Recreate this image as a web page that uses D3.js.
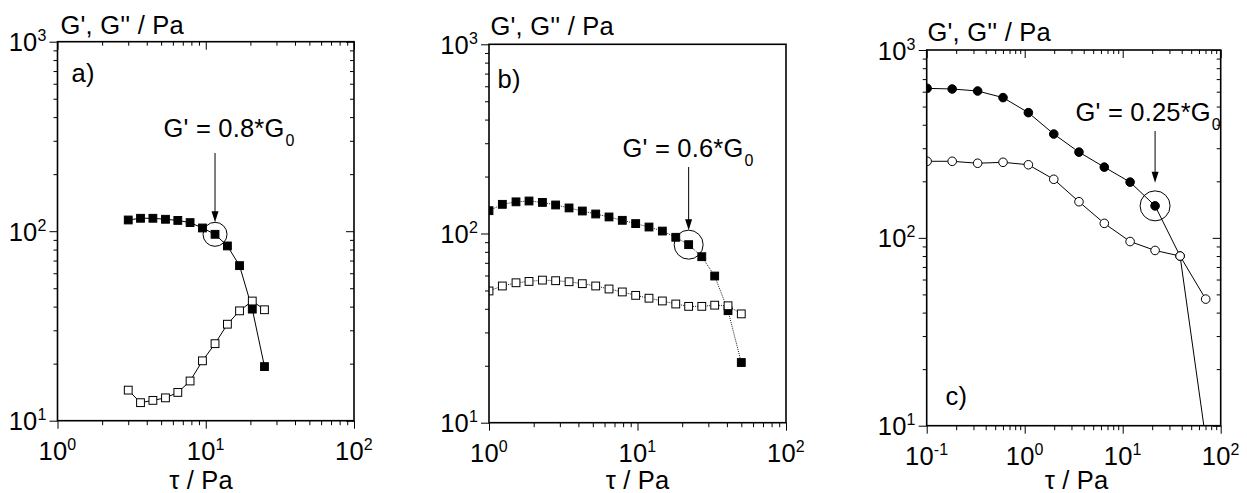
<!DOCTYPE html>
<html>
<head>
<meta charset="utf-8">
<script src="https://cdn.jsdelivr.net/npm/d3@7"></script>
<style>
  body { margin: 0; background: #fff; }
  svg text { font-family: "Liberation Sans", Arial, sans-serif; fill: #000; letter-spacing: 0.2px; }
</style>
</head>
<body>
<svg id="chart" width="1247" height="493"></svg>
<script>
// panel a
let tauA = [3.0, 3.63, 4.4, 5.35, 6.48, 7.84, 9.5, 11.55, 14.0, 16.9, 20.6, 24.9];
let gPrimeA = [114.6, 117, 117, 115.6, 114, 111, 104, 96.3, 83.6, 65.8, 38.8, 19.3];
let gDoubleA = [14.5, 12.45, 12.8, 13.2, 14.1, 16.2, 20.7, 25.5, 32.3, 38.0, 42.8, 38.5];

// panel b
let tauB = [1.0, 1.23, 1.52, 1.86, 2.29, 2.81, 3.46, 4.25, 5.23, 6.43, 7.9, 9.72, 11.95, 14.7, 18.1, 22.1, 27.1, 33.1, 40.7, 50.0];
let gPrimeB = [132, 142.6, 147, 148.5, 146, 141.5, 136.5, 131.5, 126.8, 122.3, 117.4, 112.8, 108.2, 103, 95.5, 87.3, 75.4, 59.6, 39.1, 20.8];
let gDoubleB = [49.7, 52.8, 54.9, 55.8, 56.7, 56.3, 55.6, 54.3, 52.8, 50.9, 49.1, 47.1, 45.5, 44.0, 42.4, 41.2, 41.2, 41.8, 41.5, 37.6];

// panel c
let tauC = [0.101, 0.182, 0.331, 0.601, 1.09, 1.98, 3.58, 6.49, 11.9, 21.4, 38.5, 70.3];
let gPrimeC = [625, 620, 605, 558, 464, 357, 286, 238, 198, 148, 80, 8.5];
let gDoubleC = [255.6, 255.6, 249.5, 252.5, 245, 205, 155.7, 119.4, 95.6, 85.7, 80, 47.2];

// axis decades (exponents) and texts
let xExpA = [0, 1, 2], xExpB = [0, 1, 2], xExpC = [-1, 0, 1, 2];
let yExp = [1, 2, 3];
let yTitle = "G', G'' / Pa";
let xTitle = "τ / Pa";
let tags = ["a)", "b)", "c)"];
let notes = ["G' = 0.8*G", "G' = 0.6*G", "G' = 0.25*G"];
let noteIndex = [7, 15, 9];

let svg = d3.select("#chart");
let fs = 25.5;

let panels = [
  { tau: tauA, gp: gPrimeA, gpp: gDoubleA, xExp: xExpA, shape: "square", dash: null, mirror: true,
    box: [57.5, 41.7, 354, 420.7], tagPos: [71.5, 82], yTitlePos: [60.5, 34], xTitleX: 201,
    note: { text: notes[0], idx: noteIndex[0], x: 163.5, y: 136.7, top: 153, r: 12, gap: 0 } },
  { tau: tauB, gp: gPrimeB, gpp: gDoubleB, xExp: xExpB, shape: "square", dash: "1,1", mirror: false,
    box: [489, 44.3, 786, 422.7], tagPos: [497.5, 88], yTitlePos: [490.5, 35], xTitleX: 637.5,
    note: { text: notes[1], idx: noteIndex[1], x: 622.5, y: 156.7, top: 167, r: 14.5, gap: 0 } },
  { tau: tauC, gp: gPrimeC, gpp: gDoubleC, xExp: xExpC, shape: "circle", dash: null, mirror: true,
    box: [926.7, 50, 1220.7, 425.7], tagPos: [945.5, 405], yTitlePos: [927.5, 41], xTitleX: 1076.5,
    note: { text: notes[2], idx: noteIndex[2], x: 1075.5, y: 120.7, top: 131, r: 15, gap: 8 } }
];

let logTicks = (exps) => {
  let minor = [];
  for (let i = 0; i < exps.length - 1; i++) {
    for (let m = 2; m <= 9; m++) minor.push(m * Math.pow(10, exps[i]));
  }
  return { major: exps.map(e => Math.pow(10, e)), minor: minor };
}

let powLabel = (sel, e) => {
  sel.append("tspan").text("10");
  sel.append("tspan").attr("dy", -10).attr("font-size", 16).text(e);
}

let drawAxis = (g, axis, vals, size) => {
  g.call(axis.tickValues(vals).tickSize(size).tickSizeOuter(0).tickFormat(""));
  g.select(".domain").remove();
  g.selectAll(".tick line").attr("stroke", "#000").attr("stroke-width", 1);
}

panels.forEach((p, k) => {
  let [x0, y0, x1, y1] = p.box;
  let w = x1 - x0, h = y1 - y0;

  let x = d3.scaleLog().domain([Math.pow(10, p.xExp[0]), Math.pow(10, p.xExp[p.xExp.length - 1])]).range([0, w]);
  let y = d3.scaleLog().domain([10, 1000]).range([h, 0]);

  let g = svg.append("g").attr("transform", "translate(" + x0 + "," + y0 + ")");

  let xt = logTicks(p.xExp), yt = logTicks(yExp);

  // outer ticks on left and bottom
  drawAxis(g.append("g"), d3.axisLeft(y), yt.minor, 4);
  drawAxis(g.append("g"), d3.axisLeft(y), yt.major, 8);
  drawAxis(g.append("g").attr("transform", "translate(0," + h + ")"), d3.axisBottom(x), xt.minor, 4.5);
  drawAxis(g.append("g").attr("transform", "translate(0," + h + ")"), d3.axisBottom(x), xt.major, 8);

  // mirrored inner ticks on top and right
  if (p.mirror) {
    drawAxis(g.append("g"), d3.axisBottom(x), xt.minor, 4);
    drawAxis(g.append("g"), d3.axisBottom(x), xt.major, 8);
    drawAxis(g.append("g").attr("transform", "translate(" + w + ",0)"), d3.axisLeft(y), yt.minor, 4);
    drawAxis(g.append("g").attr("transform", "translate(" + w + ",0)"), d3.axisLeft(y), yt.major, 8);
  }

  // tick labels
  yExp.forEach(e => {
    g.append("text")
      .attr("x", -11).attr("y", y(Math.pow(10, e)) + 9.5)
      .attr("text-anchor", "end").attr("font-size", fs)
      .call(powLabel, e);
  });
  p.xExp.forEach(e => {
    g.append("text")
      .attr("x", x(Math.pow(10, e))).attr("y", h + 39)
      .attr("text-anchor", "middle").attr("font-size", fs)
      .call(powLabel, e);
  });

  // data
  let clipId = "clip" + k;
  g.append("clipPath").attr("id", clipId)
    .append("rect").attr("width", w).attr("height", h);
  let plot = g.append("g").attr("clip-path", "url(#" + clipId + ")");

  let line = d3.line().x(d => x(d[0])).y(d => y(d[1]));
  let series = [
    { vals: p.gp, fill: "#000" },
    { vals: p.gpp, fill: "#fff" }
  ];

  series.forEach(s => {
    let pts = p.tau.map((t, i) => [t, s.vals[i]]);
    plot.append("path")
      .attr("d", line(pts))
      .attr("fill", "none")
      .attr("stroke", p.dash ? "#222" : "#000")
      .attr("stroke-width", 1)
      .attr("stroke-dasharray", p.dash);
  });

  series.forEach(s => {
    let pts = p.tau.map((t, i) => [t, s.vals[i]]);
    if (p.shape == "square") {
      plot.selectAll(null).data(pts).enter().append("rect")
        .attr("x", d => x(d[0]) - 3.9).attr("y", d => y(d[1]) - 3.9)
        .attr("width", 7.8).attr("height", 7.8)
        .attr("fill", s.fill).attr("stroke", "#000").attr("stroke-width", 1);
    } else {
      plot.selectAll(null).data(pts).enter().append("circle")
        .attr("cx", d => x(d[0])).attr("cy", d => y(d[1])).attr("r", 4.3)
        .attr("fill", s.fill).attr("stroke", "#000").attr("stroke-width", 1);
    }
  });

  // frame
  g.append("rect").attr("width", w).attr("height", h)
    .attr("fill", "none").attr("stroke", "#000").attr("stroke-width", 1.6);

  // annotation
  let n = p.note;
  let cx = x(p.tau[n.idx]), cy = y(p.gp[n.idx]);
  g.append("circle").attr("cx", cx).attr("cy", cy).attr("r", n.r)
    .attr("fill", "none").attr("stroke", "#000").attr("stroke-width", 1);
  let tipY = cy - n.r - n.gap;
  g.append("line")
    .attr("x1", cx).attr("x2", cx).attr("y1", n.top - y0).attr("y2", tipY - 8)
    .attr("stroke", "#000").attr("stroke-width", 1);
  g.append("path")
    .attr("d", "M" + (cx - 3.5) + "," + (tipY - 11) + "L" + (cx + 3.5) + "," + (tipY - 11) + "L" + cx + "," + tipY + "Z")
    .attr("fill", "#000");
  let nt = g.append("text").attr("x", n.x - x0).attr("y", n.y - y0).attr("font-size", fs);
  nt.append("tspan").text(n.text);
  nt.append("tspan").attr("dx", 1).attr("dy", 9.5).attr("font-size", 16).text("0");

  // panel tag and titles
  svg.append("text").attr("x", p.tagPos[0]).attr("y", p.tagPos[1]).attr("font-size", fs).text(tags[k]);
  svg.append("text").attr("x", p.yTitlePos[0]).attr("y", p.yTitlePos[1]).attr("font-size", fs).text(yTitle);
  svg.append("text").attr("x", p.xTitleX).attr("y", 489).attr("text-anchor", "middle").attr("font-size", fs).text(xTitle);
});
</script>
</body>
</html>
